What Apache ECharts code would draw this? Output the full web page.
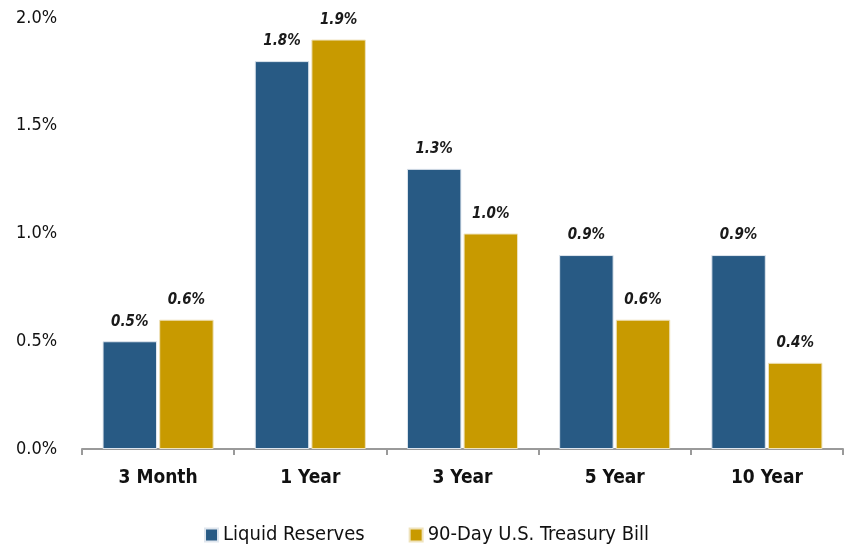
<!DOCTYPE html>
<html>
<head>
<meta charset="utf-8">
<script src="https://cdn.jsdelivr.net/npm/echarts@6/dist/echarts.min.js"></script>
<style>html,body{margin:0;padding:0;background:#fff}#c{width:853px;height:550px}</style>
</head>
<body>
<div id="c"></div>
<script>
const categories = ['3 Month', '1 Year', '3 Year', '5 Year', '10 Year'];
const liquidReserves = [0.5, 1.8, 1.3, 0.9, 0.9];
const treasuryBill = [0.6, 1.9, 1.0, 0.6, 0.4];
const seriesNames = ['Liquid Reserves', '90-Day U.S. Treasury Bill'];
const yTicks = [0, 0.5, 1.0, 1.5, 2.0];

const FONT = '"Liberation Sans Narrow", "DejaVu Sans Condensed", "Roboto", sans-serif';
const chart = echarts.init(document.getElementById('c'));
const labelCfg = {
  show: true, position: 'top', distance: 12,
  fontFamily: FONT, fontSize: 15, fontWeight: 'bold', fontStyle: 'italic', color: '#1a1a1a',
  formatter: p => p.value.toFixed(1) + '%'
};
chart.setOption({
  animation: false,
  grid: { left: 82, right: 10, top: 18, bottom: 101 },
  legend: {
    bottom: 0, left: 'center', itemWidth: 13, itemHeight: 13, itemGap: 44, icon: 'rect',
    textStyle: { fontFamily: FONT, fontSize: 20, color: '#111' },
    data: seriesNames
  },
  xAxis: {
    type: 'category', data: categories,
    axisLine: { lineStyle: { color: '#9a9a9a', width: 2 } },
    axisTick: { show: true, length: 6, lineStyle: { color: '#9a9a9a', width: 2 } },
    axisLabel: { fontFamily: FONT, fontSize: 19, fontWeight: 'bold', color: '#111', margin: 20 }
  },
  yAxis: {
    type: 'value', min: 0, max: 2.0, interval: 0.5,
    splitLine: { show: false }, axisLine: { show: false }, axisTick: { show: false },
    axisLabel: { fontFamily: FONT, fontSize: 18, color: '#111', margin: 66, align: 'left',
      formatter: v => v.toFixed(1) + '%' }
  },
  series: [
    { name: seriesNames[0], type: 'bar', data: liquidReserves, barGap: '4%', barCategoryGap: '27%',
      itemStyle: { color: '#285A84', borderColor: '#dfe6ee', borderWidth: 1 }, label: labelCfg },
    { name: seriesNames[1], type: 'bar', data: treasuryBill,
      itemStyle: { color: '#C89A00', borderColor: '#efe3bd', borderWidth: 1 }, label: labelCfg }
  ]
});
</script>
</body>
</html>
